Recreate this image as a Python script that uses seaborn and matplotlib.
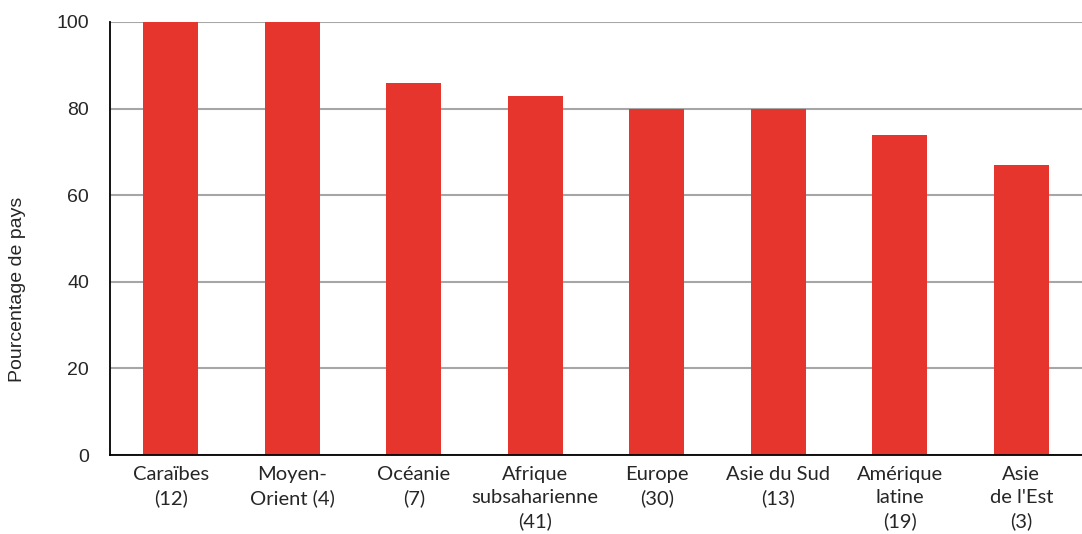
import matplotlib
matplotlib.use("Agg")
import matplotlib.pyplot as plt
import seaborn as sns
from matplotlib.ticker import FixedLocator

regions = ["Caraïbes\n(12)", "Moyen-\nOrient (4)", "Océanie\n(7)", "Afrique\nsubsaharienne\n(41)",
           "Europe\n(30)", "Asie du Sud\n(13)", "Amérique\nlatine\n(19)", "Asie\nde l'Est\n(3)"]
values = [100, 100, 86, 83, 80, 80, 74, 67]
yticks = [0, 20, 40, 60, 80, 100]

sns.set_style("white")
plt.rcParams["font.family"] = ["Liberation Sans", "DejaVu Sans"]

fig = plt.figure(figsize=(10.82, 5.34), dpi=100)
ax = fig.add_axes([110 / 1082, 1 - 455 / 534, 1 - 110 / 1082, (455 - 22) / 534])

sns.barplot(x=regions, y=values, color="#E5352D", width=0.45, saturation=1,
            linewidth=0, ax=ax, zorder=3)

ax.set_xlim(-0.5, len(regions) - 0.5)
ax.set_ylim(0, 100)
ax.set_yticks(yticks)
ax.yaxis.grid(True, color="#A6A6A6", linewidth=1.5, zorder=0)
ax.set_axisbelow(True)

for s in ["top", "right"]:
    ax.spines[s].set_visible(False)
for s in ["left", "bottom"]:
    ax.spines[s].set_color("black")
    ax.spines[s].set_linewidth(1.3)
    ax.spines[s].set_zorder(4)

ax.tick_params(axis="y", length=0, labelsize=14, pad=15)
ax.tick_params(axis="x", which="major", length=0, pad=8)
ax.xaxis.set_minor_locator(FixedLocator([i - 0.5 for i in range(len(regions))]))
ax.tick_params(axis="x", which="minor", length=7, width=1.2, color="black")
for lbl in ax.get_xticklabels():
    lbl.set_family(["Lato", "DejaVu Sans"])
    lbl.set_fontsize(14.5)
    lbl.set_linespacing(1.42)
    lbl.set_verticalalignment("top")

ax.set_ylabel("Pourcentage de pays", fontsize=14)
ax.yaxis.set_label_coords(-0.086, 0.383)
ax.set_xlabel("")

fig.savefig("out.png", dpi=100)
